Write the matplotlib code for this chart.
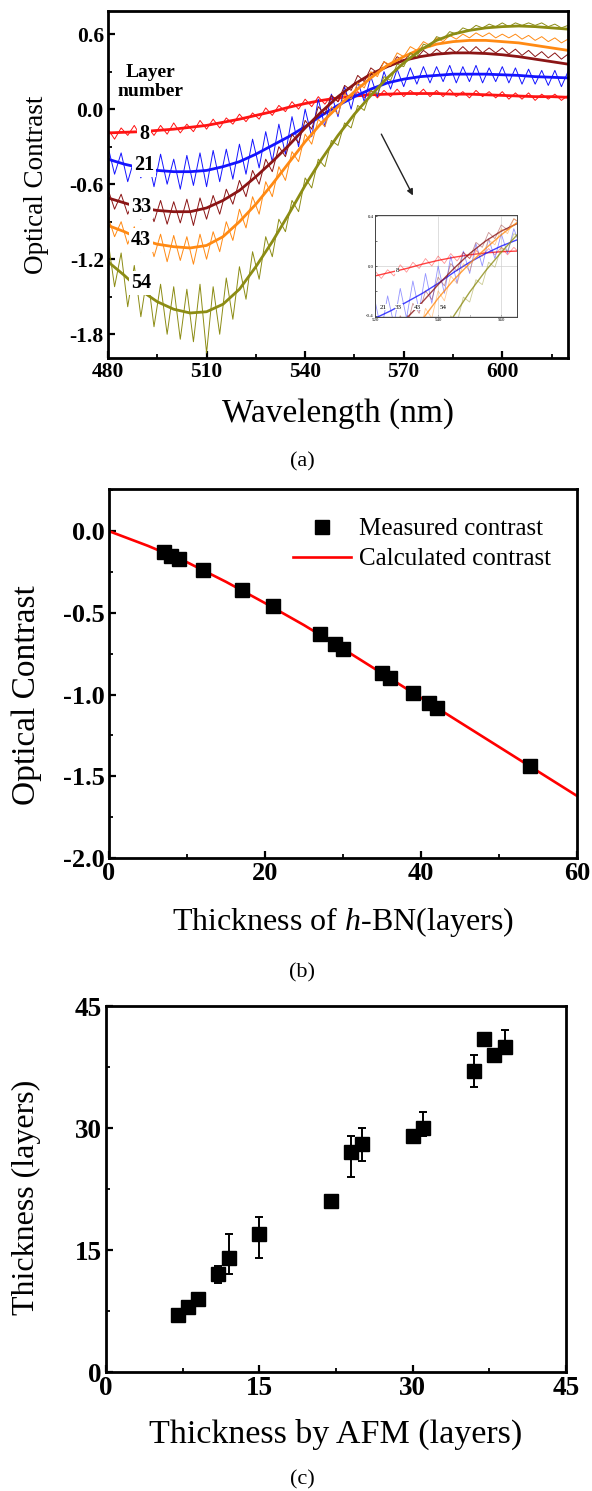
import numpy as np
import matplotlib
matplotlib.use('agg')
import matplotlib.pyplot as plt
import matplotlib.ticker as mticker

plt.rcParams['font.family'] = ['Liberation Serif', 'DejaVu Serif']
plt.rcParams['axes.unicode_minus'] = False
plt.rcParams['mathtext.fontset'] = 'custom'
plt.rcParams['mathtext.rm'] = 'Liberation Serif'
plt.rcParams['mathtext.it'] = 'Liberation Serif:italic'

# ---------------- panel (a): contrast spectra ----------------
layer_numbers = ['8', '21', '33', '43', '54']
spec_colors = ['#ff1414', '#1414ff', '#8b1515', '#ff8a14', '#8c8c14']

# fitted curves, every 5 nm from 480 to 620
fit_8 = [-0.19, -0.185, -0.18, -0.17, -0.16, -0.145, -0.13, -0.105, -0.08, -0.05, -0.02, 0.015, 0.045, 0.07, 0.09,
         0.105, 0.115, 0.12, 0.125, 0.125, 0.125, 0.12, 0.12, 0.115, 0.11, 0.105, 0.10, 0.10, 0.095]
fit_21 = [-0.40, -0.44, -0.47, -0.49, -0.50, -0.50, -0.49, -0.46, -0.42, -0.36, -0.29, -0.22, -0.14, -0.05, 0.03,
          0.10, 0.16, 0.21, 0.24, 0.26, 0.27, 0.28, 0.28, 0.28, 0.275, 0.27, 0.26, 0.255, 0.25]
fit_33 = [-0.71, -0.75, -0.79, -0.81, -0.82, -0.82, -0.79, -0.73, -0.65, -0.54, -0.42, -0.29, -0.15, -0.02, 0.10,
          0.20, 0.28, 0.34, 0.39, 0.42, 0.44, 0.45, 0.45, 0.445, 0.435, 0.42, 0.40, 0.38, 0.36]
fit_43 = [-0.93, -0.98, -1.04, -1.08, -1.10, -1.11, -1.09, -1.02, -0.90, -0.76, -0.60, -0.43, -0.26, -0.11, 0.02,
          0.14, 0.25, 0.35, 0.42, 0.48, 0.52, 0.54, 0.55, 0.55, 0.54, 0.53, 0.51, 0.49, 0.47]
fit_54 = [-1.22, -1.33, -1.45, -1.54, -1.60, -1.63, -1.62, -1.56, -1.44, -1.26, -1.06, -0.84, -0.61, -0.40, -0.21,
          -0.04, 0.11, 0.25, 0.37, 0.47, 0.55, 0.60, 0.63, 0.65, 0.66, 0.665, 0.66, 0.65, 0.64]

# measured spectra, every 2 nm from 480 to 620
meas_8 = [-0.16, -0.24, -0.15, -0.21, -0.13, -0.22, -0.14, -0.21, -0.13, -0.20, -0.11, -0.19, -0.12, -0.18, -0.09,
          -0.16, -0.08, -0.15, -0.07, -0.12, -0.04, -0.10, -0.03, -0.08, 0.01, -0.05, 0.03, -0.02, 0.06, 0.00,
          0.08, 0.02, 0.10, 0.04, 0.11, 0.06, 0.13, 0.08, 0.14, 0.09, 0.15, 0.09, 0.15, 0.10, 0.16, 0.10,
          0.15, 0.11, 0.16, 0.10, 0.15, 0.10, 0.16, 0.10, 0.14, 0.09, 0.15, 0.10, 0.14, 0.09, 0.14, 0.08,
          0.13, 0.08, 0.13, 0.07, 0.12, 0.08, 0.12, 0.07, 0.11]
meas_21 = [-0.30, -0.52, -0.35, -0.58, -0.40, -0.55, -0.38, -0.62, -0.36, -0.60, -0.40, -0.64, -0.37, -0.61, -0.35,
           -0.62, -0.33, -0.58, -0.32, -0.56, -0.28, -0.52, -0.24, -0.47, -0.18, -0.42, -0.12, -0.36, -0.06,
           -0.30, 0.00, -0.22, 0.08, -0.14, 0.12, -0.06, 0.18, 0.00, 0.22, 0.06, 0.26, 0.10, 0.30, 0.16, 0.32,
           0.18, 0.33, 0.20, 0.34, 0.21, 0.34, 0.22, 0.35, 0.21, 0.34, 0.22, 0.35, 0.21, 0.33, 0.22, 0.34,
           0.21, 0.33, 0.20, 0.32, 0.20, 0.31, 0.19, 0.31, 0.18, 0.30]
meas_33 = [-0.64, -0.80, -0.68, -0.84, -0.72, -0.88, -0.74, -0.90, -0.73, -0.92, -0.74, -0.91, -0.72, -0.93, -0.71,
           -0.88, -0.69, -0.84, -0.64, -0.76, -0.57, -0.70, -0.49, -0.60, -0.40, -0.50, -0.30, -0.38, -0.20,
           -0.27, -0.09, -0.16, 0.02, -0.04, 0.11, 0.06, 0.19, 0.15, 0.27, 0.22, 0.33, 0.29, 0.38, 0.34, 0.42,
           0.38, 0.45, 0.41, 0.47, 0.43, 0.48, 0.44, 0.49, 0.45, 0.50, 0.45, 0.50, 0.45, 0.49, 0.45, 0.49,
           0.44, 0.48, 0.43, 0.47, 0.42, 0.46, 0.41, 0.45, 0.40, 0.44]
meas_43 = [-0.86, -1.02, -0.90, -1.08, -0.94, -1.14, -0.98, -1.18, -1.00, -1.22, -1.01, -1.21, -1.02, -1.24, -1.00,
           -1.20, -0.98, -1.14, -0.90, -1.05, -0.80, -0.95, -0.70, -0.84, -0.58, -0.70, -0.46, -0.57, -0.34,
           -0.42, -0.20, -0.28, -0.08, -0.14, 0.02, -0.04, 0.12, 0.08, 0.21, 0.17, 0.30, 0.26, 0.38, 0.35, 0.45,
           0.42, 0.50, 0.47, 0.54, 0.51, 0.57, 0.54, 0.59, 0.56, 0.60, 0.57, 0.61, 0.58, 0.61, 0.57, 0.60,
           0.57, 0.60, 0.56, 0.59, 0.55, 0.58, 0.54, 0.57, 0.53, 0.56]
meas_54 = [-1.05, -1.42, -1.15, -1.58, -1.25, -1.66, -1.32, -1.74, -1.40, -1.80, -1.42, -1.84, -1.44, -1.86, -1.40,
           -1.95, -1.42, -1.80, -1.35, -1.68, -1.26, -1.52, -1.14, -1.36, -1.02, -1.18, -0.88, -0.98, -0.73,
           -0.82, -0.55, -0.63, -0.40, -0.46, -0.25, -0.29, -0.11, -0.15, 0.03, -0.01, 0.15, 0.12, 0.26, 0.23,
           0.36, 0.34, 0.45, 0.42, 0.52, 0.50, 0.58, 0.56, 0.62, 0.60, 0.65, 0.63, 0.67, 0.65, 0.68, 0.66, 0.69,
           0.66, 0.69, 0.67, 0.69, 0.67, 0.69, 0.66, 0.68, 0.65, 0.67]

fits = [fit_8, fit_21, fit_33, fit_43, fit_54]
meas = [meas_8, meas_21, meas_33, meas_43, meas_54]

# label positions (wavelength, contrast) for the layer numbers
label_wl = [491, 491, 490, 490, 490]
label_val = [-0.20, -0.45, -0.78, -1.05, -1.39]
inset_label_wl = [527, 522.5, 527.5, 533.5, 541.5]
inset_label_val = [-0.04, -0.33, -0.33, -0.33, -0.33]

# ---------------- panel (b): contrast vs thickness ----------------
b_layers = [7, 8, 9, 12, 17, 21, 27, 29, 30, 35, 36, 39, 41, 42, 54]
b_contrast = [-0.13, -0.15, -0.17, -0.24, -0.36, -0.46, -0.63, -0.69, -0.72, -0.87, -0.90, -0.99, -1.05, -1.08, -1.44]
calc_layers = [0, 5, 10, 15, 20, 25, 30, 35, 40, 45, 50, 55, 60]
calc_contrast = [0.0, -0.09, -0.19, -0.31, -0.44, -0.575, -0.72, -0.87, -1.02, -1.17, -1.32, -1.47, -1.62]

# ---------------- panel (c): optical vs AFM thickness ----------------
afm_layers = [7, 8, 9, 11, 12, 15, 22, 24, 25, 30, 31, 36, 37, 38, 39]
opt_layers = [7, 8, 9, 12, 14, 17, 21, 27, 28, 29, 30, 37, 41, 39, 40]
err_low = [0.5, 0.5, 0.5, 1, 2, 3, 0.5, 3, 2, 0.7, 1, 2, 0.5, 0.8, 0.5]
err_high = [0.5, 0.5, 0.5, 1, 3, 2, 0.5, 2, 2, 0.5, 2, 2, 0.5, 0.5, 2]

W, H = 592, 1491
fig = plt.figure(figsize=(W / 100, H / 100), dpi=100)


def px_axes(left, top, right, bottom):
    return fig.add_axes([left / W, 1 - bottom / H, (right - left) / W, (bottom - top) / H])


def style_axes(ax, tick_size):
    for sp in ax.spines.values():
        sp.set_linewidth(2.0)
    ax.tick_params(which='major', direction='in', length=5, width=1.6, labelsize=tick_size, pad=3)
    ax.tick_params(which='minor', direction='in', length=3, width=1.3)
    ax.tick_params(top=False, right=False, which='both')
    for lab in ax.get_xticklabels() + ax.get_yticklabels():
        lab.set_fontweight('bold')


# (a)
ax_a = px_axes(108, 11, 568, 358)
wl_fit = np.linspace(480, 620, len(fit_8))
wl_meas = np.linspace(480, 620, len(meas_8))
for f, m, c in zip(fits, meas, spec_colors):
    ax_a.plot(wl_meas, m, color=c, lw=0.7)
    ax_a.plot(wl_fit, f, color=c, lw=2.0)
for t, x, y in zip(layer_numbers, label_wl, label_val):
    ax_a.text(x, y, t, fontsize=14.5, fontweight='bold', ha='center', va='center', zorder=5,
              bbox=dict(facecolor='white', edgecolor='none', pad=1.5))
ax_a.text(492.8, 0.22, 'Layer\nnumber', fontsize=14, fontweight='bold', ha='center', va='center',
          linespacing=1.15)
ax_a.annotate('', xy=(573.2, -0.71), xytext=(562.8, -0.18),
              arrowprops=dict(arrowstyle='-|>', color='#222222', lw=1.0, mutation_scale=9))
ax_a.set_xlim(480, 620)
ax_a.set_ylim(-1.99, 0.785)
ax_a.xaxis.set_major_locator(mticker.MultipleLocator(30))
ax_a.xaxis.set_minor_locator(mticker.MultipleLocator(15))
ax_a.yaxis.set_major_locator(mticker.MultipleLocator(0.6))
ax_a.yaxis.set_minor_locator(mticker.MultipleLocator(0.3))
ax_a.yaxis.set_major_formatter(mticker.FormatStrFormatter('%.1f'))
style_axes(ax_a, 15.5)
ax_a.set_xlabel('Wavelength (nm)', fontsize=24)
ax_a.set_ylabel('Optical Contrast', fontsize=19.5)
ax_a.xaxis.set_label_coords(0.5, (358 - 414) / 347)
ax_a.xaxis.label.set_va('center')
ax_a.yaxis.set_label_coords((37 - 108) / 460, 0.5)
ax_a.yaxis.label.set_va('center')

# inset
ins = ax_a.inset_axes([(375 - 108) / 460, (358 - 317) / 347, 142 / 460, 102 / 347])
for f, m, c in zip(fits, meas, spec_colors):
    ins.plot(wl_meas, m, color=c, lw=0.6, alpha=0.45)
    ins.plot(wl_fit, f, color=c, lw=1.0, alpha=0.8)
for t, x, y in zip(layer_numbers, inset_label_wl, inset_label_val):
    ins.text(x, y, t, fontsize=5, ha='center', va='center', zorder=5,
             bbox=dict(facecolor='white', edgecolor='none', pad=0.3))
ins.set_xlim(520, 565)
ins.set_ylim(-0.41, 0.41)
ins.set_xticks([520, 540, 560])
ins.set_yticks([-0.4, 0.0, 0.4])
ins.xaxis.set_minor_locator(mticker.MultipleLocator(10))
ins.yaxis.set_minor_locator(mticker.MultipleLocator(0.2))
ins.yaxis.set_major_formatter(mticker.FormatStrFormatter('%.1f'))
ins.grid(True, color='#d0d0d0', lw=0.5)
ins.tick_params(which='both', direction='in', labelsize=3.5, length=1.5, width=0.4, pad=1)
for sp in ins.spines.values():
    sp.set_linewidth(0.7)
    sp.set_color('#444444')

# (b)
ax_b = px_axes(109, 489, 577, 858)
ax_b.plot(b_layers, b_contrast, 's', color='black', ms=9.5, label='Measured contrast', zorder=3)
ax_b.plot(calc_layers, calc_contrast, color='#ff0000', lw=1.9, label='Calculated contrast', zorder=2)
ax_b.set_xlim(0, 60)
ax_b.set_ylim(-2.0, 0.258)
ax_b.xaxis.set_major_locator(mticker.MultipleLocator(20))
ax_b.xaxis.set_minor_locator(mticker.MultipleLocator(10))
ax_b.yaxis.set_major_locator(mticker.MultipleLocator(0.5))
ax_b.yaxis.set_minor_locator(mticker.MultipleLocator(0.25))
ax_b.yaxis.set_major_formatter(mticker.FormatStrFormatter('%.1f'))
style_axes(ax_b, 19)
ax_b.legend(loc='upper right', bbox_to_anchor=(0.945, 0.922), frameon=False, fontsize=18,
            borderaxespad=0, borderpad=0, handlelength=2.3, handletextpad=0.35, labelspacing=0.3)
ax_b.set_xlabel('Thickness of $\\it{h}$-BN(layers)', fontsize=23)
ax_b.set_ylabel('Optical Contrast', fontsize=24)
ax_b.xaxis.set_label_coords(0.5, (858 - 922) / 369)
ax_b.xaxis.label.set_va('center')
ax_b.yaxis.set_label_coords((27 - 109) / 468, (858 - 695) / 369)
ax_b.yaxis.label.set_va('center')

# (c)
ax_c = px_axes(106, 1006, 566, 1372)
ax_c.errorbar(afm_layers, opt_layers, yerr=[err_low, err_high], fmt='s', color='black', ms=10,
              elinewidth=1.4, capsize=3, capthick=1.4)
ax_c.set_xlim(0, 45)
ax_c.set_ylim(0, 45)
for axis in (ax_c.xaxis, ax_c.yaxis):
    axis.set_major_locator(mticker.MultipleLocator(15))
    axis.set_minor_locator(mticker.MultipleLocator(7.5))
style_axes(ax_c, 19.5)
ax_c.set_xlabel('Thickness by AFM (layers)', fontsize=24.5)
ax_c.set_ylabel('Thickness (layers)', fontsize=23)
ax_c.xaxis.set_label_coords(0.5, (1372 - 1434) / 366)
ax_c.xaxis.label.set_va('center')
ax_c.yaxis.set_label_coords((26 - 106) / 460, (1372 - 1197) / 366)
ax_c.yaxis.label.set_va('center')

for tag, y in zip(['(a)', '(b)', '(c)'], [462, 973, 1480]):
    fig.text(302 / W, 1 - y / H, tag, fontsize=16, ha='center', va='center')

fig.savefig('out.png', dpi=100)
